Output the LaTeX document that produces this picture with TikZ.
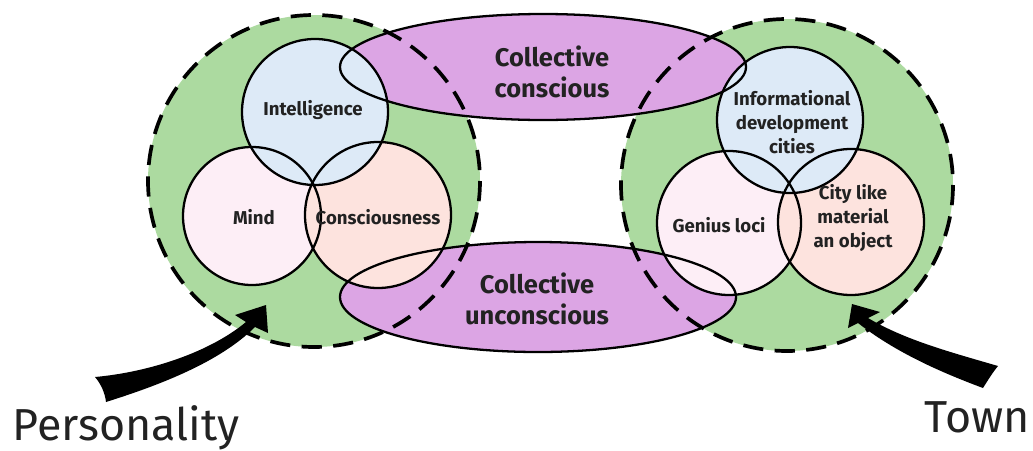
\documentclass[tikz,border=0pt]{standalone}
\usepackage{fontspec}
\setmainfont{Fira Sans}
\definecolor{zonegreen}{RGB}{172,218,160}
\definecolor{collect}{RGB}{220,165,228}
\definecolor{intelblue}{RGB}{221,234,247}
\definecolor{mindpink}{RGB}{253,238,246}
\definecolor{conscpink}{RGB}{253,227,222}
\definecolor{inkgray}{RGB}{34,34,34}
\begin{document}
\begin{tikzpicture}[x=0.02cm, y=-0.02cm,
  border/.style={line width=2.1pt, dash pattern=on 11.5pt off 6.5pt},
  outline/.style={line width=1.3pt},
  lbl/.style={font=\bfseries\fontsize{10.6}{13.6}\selectfont, align=center, text=inkgray},
  biglbl/.style={font=\bfseries\fontsize{14.5}{18}\selectfont, align=center, text=inkgray},
  placelbl/.style={font=\fontsize{25.5}{26}\selectfont, text=inkgray}]
  \useasboundingbox (0,0) rectangle (1033,450);
  \coordinate (person) at (314,181);
  \coordinate (town) at (787,185);
  \coordinate (upper) at (543,67);
  \coordinate (lower) at (538,297);
  \coordinate (intel) at (315,112);
  \coordinate (mind) at (252,216);
  \coordinate (consc) at (378,215);
  \coordinate (info) at (790,120);
  \coordinate (genius) at (729,223);
  \coordinate (city) at (851,222);
  \fill[zonegreen] (person) circle (166);
  \fill[zonegreen] (town) circle (166);
  \fill[collect] (upper) ellipse (203 and 53);
  \fill[collect] (lower) ellipse (198 and 55);
  \draw[border] (person) circle (166);
  \draw[border] (town) circle (166);
  \foreach \c/\r/\col in {mind/69/mindpink, consc/73/conscpink, intel/73/intelblue,
      genius/72/mindpink, city/73/conscpink, info/73/intelblue}
    \fill[\col] (\c) circle (\r);
  \draw[outline] (upper) ellipse (203 and 53);
  \draw[outline] (lower) ellipse (198 and 55);
  \foreach \c/\r in {mind/69, consc/73, intel/73, genius/72, city/73, info/73}
    \draw[outline] (\c) circle (\r);
  \node[lbl] (tintel) at (313,110) {Intelligence};
  \node[lbl] (tmind) at (254,217) {Mind};
  \node[lbl] (tconsc) at (378,217) {Consciousness};
  \node[lbl] (tinfo) at (792,122) {Informational\\development\\cities};
  \node[lbl] (tgenius) at (719,225) {Genius loci};
  \node[lbl] (tcity) at (853,218) {City like\\material\\an object};
  \node[biglbl] (tupper) at (552,72) {Collective\\conscious};
  \node[biglbl] (tlower) at (537,299) {Collective\\unconscious};
  \node[placelbl, anchor=base west, inner sep=0pt] (personality) at (12,440) {Personality};
  \node[placelbl, anchor=base east, inner sep=0pt] (townname) at (1030,432) {Town};
  \fill (95,377) .. controls (150,372) and (210,352) .. (246,322) -- (235,315) -- (266,305)
    -- (268,333) -- (255,327) .. controls (220,362) and (160,385) .. (106,402)
    .. controls (105,393) and (101,384) .. (95,377) -- cycle;
  \fill (998,366) .. controls (950,352) and (905,340) .. (868,318) -- (880,312) -- (852,304)
    -- (848,328) -- (858,323) .. controls (895,352) and (940,372) .. (983,388)
    .. controls (988,380) and (993,372) .. (998,366) -- cycle;
\end{tikzpicture}
\end{document}
